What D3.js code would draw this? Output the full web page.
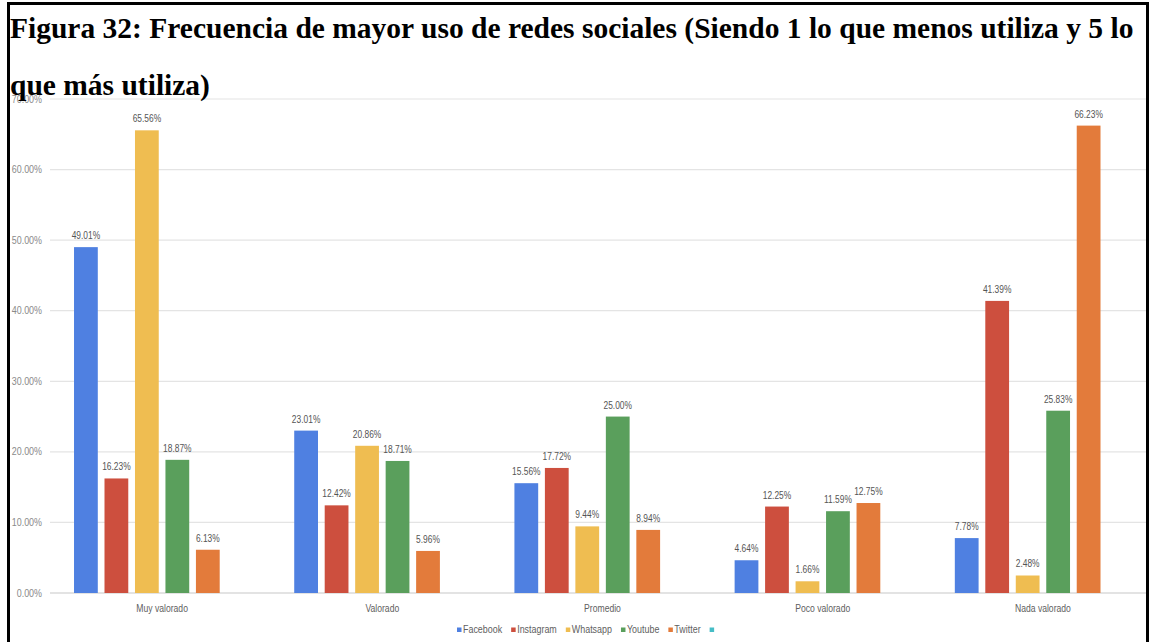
<!DOCTYPE html>
<html>
<head>
<meta charset="utf-8">
<script src="https://cdn.jsdelivr.net/npm/d3@7"></script>
<style>
  html, body { margin: 0; padding: 0; background: #fff; }
  #chart { width: 1153px; height: 642px; }
</style>
</head>
<body>
<div id="chart"></div>
<script>
const categories = ['Muy valorado', 'Valorado', 'Promedio', 'Poco valorado', 'Nada valorado'];
const seriesNames = ['Facebook', 'Instagram', 'Whatsapp', 'Youtube', 'Twitter', ''];
const facebook = [49.01, 23.01, 15.56, 4.64, 7.78];
const instagram = [16.23, 12.42, 17.72, 12.25, 41.39];
const whatsapp = [65.56, 20.86, 9.44, 1.66, 2.48];
const youtube = [18.87, 18.71, 25.00, 11.59, 25.83];
const twitter = [6.13, 5.96, 8.94, 12.75, 66.23];
const blank = [null, null, null, null, null];
const yTicks = [0, 10, 20, 30, 40, 50, 60, 70];
const titleLines = [
  'Figura 32: Frecuencia de mayor uso de redes sociales (Siendo 1 lo que menos utiliza y 5 lo',
  'que más utiliza)'
];

const palette = ['#4f80e1', '#cd4f3e', '#efbd51', '#5a9f5c', '#e37b3b', '#46bdc6'];
const values = [facebook, instagram, whatsapp, youtube, twitter, blank];
const smallFont = "'Liberation Sans', Arial, sans-serif";

class GroupedBars {
  constructor(selector) {
    this.width = 1153;
    this.height = 642;
    this.svg = d3.select(selector).append('svg')
      .attr('width', this.width)
      .attr('height', this.height);
    this._initScales();
    this._drawGrid();
    this._drawBars();
    this._drawLegend();
    this._drawTitle();
    this._drawFrame();
  }

  _initScales() {
    this.x0 = d3.scaleBand()
      .domain(categories)
      .range([52, 1153])
      .paddingInner(0.2)
      .paddingOuter(0.1);
    this.x1 = d3.scaleBand()
      .domain(seriesNames.map((d, i) => i))
      .range([0, this.x0.bandwidth()])
      .paddingInner(0.22);
    this.y = d3.scaleLinear()
      .domain([0, 70])
      .range([593, 99]);
  }

  // narrow-looking labels: regular sans squeezed horizontally
  _small(sel, size, squeeze, color, x, y) {
    return sel.attr('transform', (d, i) => `translate(${x(d, i)},${y(d, i)}) scale(${squeeze},1)`)
      .style('font-family', smallFont)
      .style('font-size', size + 'px')
      .style('fill', color);
  }

  _drawGrid() {
    const y = this.y;
    const grid = this.svg.append('g').classed('grid', true);
    grid.selectAll('line')
      .data(yTicks)
      .enter()
      .append('line')
      .attr('x1', 50)
      .attr('x2', 1147)
      .attr('y1', d => y(d))
      .attr('y2', d => y(d))
      .style('stroke', d => d === 0 ? '#c8c8c8' : '#e4e4e4')
      .style('stroke-width', 1.2);
    this._small(grid.selectAll('text')
      .data(yTicks)
      .enter()
      .append('text')
      .attr('text-anchor', 'end'), 10.5, 0.85, '#8a8a8a', () => 42, d => y(d) + 3.5)
      .text(d => d3.format('.2f')(d) + '%');

    this._small(this.svg.append('g').classed('categories', true)
      .selectAll('text')
      .data(categories)
      .enter()
      .append('text')
      .attr('text-anchor', 'middle'), 10.5, 0.82, '#606060',
      d => this.x0(d) + this.x0.bandwidth() / 2, () => 612)
      .text(d => d);
  }

  _drawBars() {
    const x0 = this.x0, x1 = this.x1, y = this.y;
    const groups = this.svg.append('g').classed('bars', true)
      .selectAll('g')
      .data(categories)
      .enter()
      .append('g')
      .attr('transform', d => `translate(${x0(d)},0)`);

    const cells = groups.selectAll('g')
      .data((c, ci) => values.map((v, si) => ({ s: si, v: v[ci] })).filter(d => d.v !== null))
      .enter()
      .append('g');

    cells.append('rect')
      .attr('x', d => x1(d.s))
      .attr('y', d => y(d.v))
      .attr('width', x1.bandwidth())
      .attr('height', d => y(0) - y(d.v))
      .style('fill', d => palette[d.s]);

    this._small(cells.append('text')
      .attr('text-anchor', 'middle'), 10.5, 0.8, '#555',
      d => x1(d.s) + x1.bandwidth() / 2, d => y(d.v) - 8)
      .text(d => d3.format('.2f')(d.v) + '%');
  }

  _drawLegend() {
    const legend = this.svg.append('g').classed('legend', true)
      .attr('transform', 'translate(457, 633)');
    const squeeze = 0.85;
    let offset = 0;
    seriesNames.forEach((name, i) => {
      const item = legend.append('g').attr('transform', `translate(${offset},0)`);
      item.append('rect')
        .attr('x', 0)
        .attr('y', -5.5)
        .attr('width', 4.5)
        .attr('height', 4.5)
        .style('fill', palette[i]);
      const label = this._small(item.append('text'), 10.5, squeeze, '#606060', () => 6, () => 0)
        .text(name);
      offset += 6 + label.node().getComputedTextLength() * squeeze + 9;
    });
  }

  _drawTitle() {
    this.svg.append('g').classed('title', true)
      .selectAll('text')
      .data(titleLines)
      .enter()
      .append('text')
      .attr('x', 10)
      .attr('y', (d, i) => 38 + i * 57)
      .style('font-family', "'Liberation Serif', 'Times New Roman', serif")
      .style('font-weight', 'bold')
      .style('font-size', '29.5px')
      .style('fill', '#000')
      .text(d => d);
  }

  _drawFrame() {
    this.svg.append('rect')
      .attr('x', 8.5)
      .attr('y', 3.5)
      .attr('width', 1139)
      .attr('height', 660)
      .style('fill', 'none')
      .style('stroke', '#000')
      .style('stroke-width', 3);
  }
}

new GroupedBars('#chart');
</script>
</body>
</html>
